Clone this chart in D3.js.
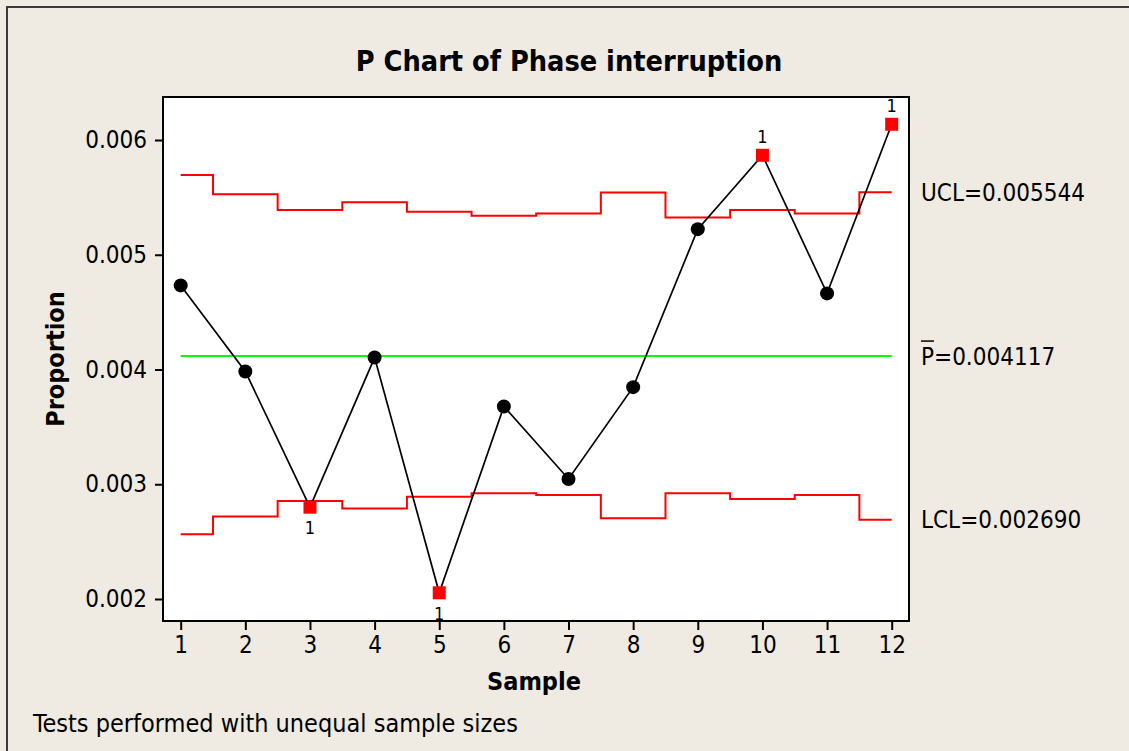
<!DOCTYPE html>
<html>
<head>
<meta charset="utf-8">
<script src="https://cdn.jsdelivr.net/npm/d3@7"></script>
<style>
  html, body { margin: 0; padding: 0; background: #efebe2; overflow: hidden; }
  svg text { font-family: "DejaVu Sans Condensed", "DejaVu Sans", sans-serif; font-stretch: condensed; fill: #000; }
</style>
</head>
<body>
<div id="chart"></div>
<script>
// P chart data
const samples = [1, 2, 3, 4, 5, 6, 7, 8, 9, 10, 11, 12];
const proportion = [0.004733, 0.003983, 0.002800, 0.004104, 0.002054, 0.003678,
                    0.003046, 0.003846, 0.005223, 0.005867, 0.004663, 0.006137];
const ucl = [0.005696, 0.005528, 0.005391, 0.005458, 0.005374, 0.005339,
             0.005360, 0.005542, 0.005325, 0.005391, 0.005359, 0.005544];
const lcl = [0.002565, 0.002719, 0.002855, 0.002788, 0.002890, 0.002922,
             0.002907, 0.002704, 0.002922, 0.002872, 0.002907, 0.002690];
const pBar = 0.004117;
const failed = [3, 5, 10, 12]; // samples flagged by test 1
const yTicks = [0.002, 0.003, 0.004, 0.005, 0.006];

const W = 1129, H = 751;
const plot = {left: 163, right: 909, top: 97, bottom: 621};

const svg = d3.select("#chart").append("svg")
    .attr("width", W).attr("height", H);

// outer frame (only top and left visible in the picture)
svg.append("rect")
    .attr("x", 7).attr("y", 7).attr("width", W + 20).attr("height", H + 20)
    .attr("fill", "#efebe2").attr("stroke", "#3a3a3a").attr("stroke-width", 2);

const x = d3.scaleLinear().domain([1, 12]).range([180.7, 891.7]);
const y = d3.scaleLinear().domain([0.002, 0.006]).range([599, 140]);

svg.append("rect")
    .attr("x", plot.left).attr("y", plot.top)
    .attr("width", plot.right - plot.left).attr("height", plot.bottom - plot.top)
    .attr("fill", "#fff");

// title
svg.append("text")
    .attr("x", 569).attr("y", 71)
    .attr("text-anchor", "middle")
    .style("font-size", "28.6px").style("font-weight", "bold")
    .text("P Chart of Phase interruption");

// axes
const yAxis = svg.append("g")
    .attr("transform", `translate(${plot.left},0)`)
    .call(d3.axisLeft(y).tickValues(yTicks).tickFormat(d3.format(".3f")).tickSize(8).tickPadding(8));
const xAxis = svg.append("g")
    .attr("transform", `translate(0,${plot.bottom})`)
    .call(d3.axisBottom(x).tickValues(samples).tickFormat(d3.format("d")).tickSize(9).tickPadding(6));
[yAxis, xAxis].forEach(g => {
    g.select(".domain").remove();
    g.selectAll(".tick line").attr("stroke", "#000").attr("stroke-width", 2);
    g.selectAll(".tick text").style("font-size", "24px").attr("font-family", null);
});

// step line helper for control limits
function stepPoints(vals) {
    const pts = [];
    vals.forEach((v, i) => {
        const s = samples[i];
        pts.push([Math.max(1, s - 0.5), v], [Math.min(12, s + 0.5), v]);
    });
    return pts;
}
const line = d3.line().x(d => x(d[0])).y(d => y(d[1]));

[ucl, lcl].forEach(vals => {
    svg.append("path")
        .attr("d", line(stepPoints(vals)))
        .attr("fill", "none").attr("stroke", "#ff0000").attr("stroke-width", 2);
});

svg.append("line")
    .attr("x1", x(1)).attr("x2", x(12))
    .attr("y1", y(pBar)).attr("y2", y(pBar))
    .attr("stroke", "#00ff00").attr("stroke-width", 2);

// data line
const data = samples.map((s, i) => ({s: s, p: proportion[i], bad: failed.includes(s)}));
svg.append("path")
    .attr("d", d3.line().x(d => x(d.s)).y(d => y(d.p))(data))
    .attr("fill", "none").attr("stroke", "#000").attr("stroke-width", 1.7);

svg.selectAll(".pt")
    .data(data.filter(d => !d.bad))
    .join("circle")
    .attr("class", "pt")
    .attr("cx", d => x(d.s)).attr("cy", d => y(d.p)).attr("r", 7)
    .attr("fill", "#000");

svg.selectAll(".fail")
    .data(data.filter(d => d.bad))
    .join("rect")
    .attr("class", "fail")
    .attr("x", d => x(d.s) - 6.5).attr("y", d => y(d.p) - 6.5)
    .attr("width", 13).attr("height", 13)
    .attr("fill", "#ff0000");

svg.selectAll(".fail-label")
    .data(data.filter(d => d.bad))
    .join("text")
    .attr("class", "fail-label")
    .attr("x", d => x(d.s)).attr("y", d => d.p > pBar ? y(d.p) - 12 : y(d.p) + 27)
    .attr("text-anchor", "middle")
    .style("font-size", "18px")
    .text("1");

// plot frame on top
svg.append("rect")
    .attr("x", plot.left).attr("y", plot.top)
    .attr("width", plot.right - plot.left).attr("height", plot.bottom - plot.top)
    .attr("fill", "none").attr("stroke", "#000").attr("stroke-width", 2);

// limit labels
const lx = 921;
svg.append("text").attr("x", lx).attr("y", y(ucl[11])).attr("dy", "0.36em")
    .style("font-size", "24px").text("UCL=" + ucl[11].toFixed(6));
svg.append("text").attr("x", lx).attr("y", y(lcl[11])).attr("dy", "0.36em")
    .style("font-size", "24px").text("LCL=" + lcl[11].toFixed(6));
const pLab = svg.append("text").attr("x", lx).attr("y", y(pBar)).attr("dy", "0.36em")
    .style("font-size", "24px");
const pSpan = pLab.append("tspan").text("P");
pLab.append("tspan").text("=" + pBar.toFixed(6));
const pw = pSpan.node().getComputedTextLength();
svg.append("line")
    .attr("x1", lx).attr("x2", lx + pw)
    .attr("y1", y(pBar) - 15).attr("y2", y(pBar) - 15)
    .attr("stroke", "#000").attr("stroke-width", 1.5);

// axis titles
svg.append("text")
    .attr("x", 534).attr("y", 690)
    .attr("text-anchor", "middle")
    .style("font-size", "25px").style("font-weight", "bold")
    .text("Sample");
svg.append("text")
    .attr("transform", "translate(64,359) rotate(-90)")
    .attr("text-anchor", "middle")
    .style("font-size", "25px").style("font-weight", "bold")
    .text("Proportion");

svg.append("text")
    .attr("x", 33).attr("y", 732)
    .style("font-size", "25px")
    .text("Tests performed with unequal sample sizes");
</script>
</body>
</html>
